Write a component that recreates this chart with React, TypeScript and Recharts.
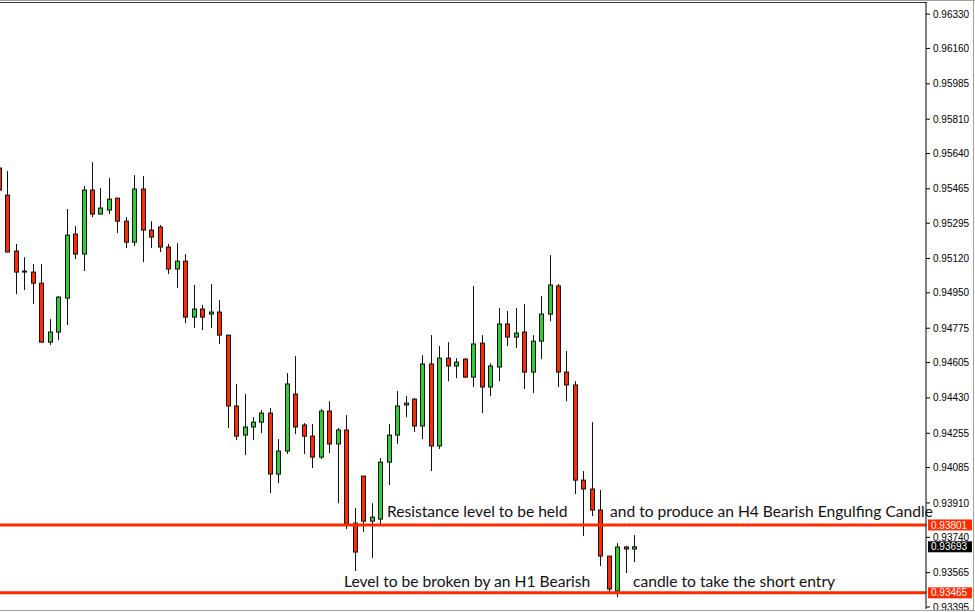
import { ComposedChart, Bar, XAxis, YAxis, ReferenceLine, ReferenceDot } from 'recharts';

// candle values (index 0 is the cut-off one at the left edge)
const opens = [
  0.95568, 0.95434, 0.95157, 0.95058, 0.95053, 0.94998, 0.94706, 0.94756, 0.94924, 0.95241,
  0.95142, 0.95459, 0.95340, 0.95360, 0.95419, 0.95305, 0.95201, 0.95464, 0.95261, 0.95276,
  0.95177, 0.95068, 0.95107, 0.94830, 0.94870, 0.94845, 0.94855, 0.94741, 0.94390, 0.94246,
  0.94286, 0.94310, 0.94355, 0.94053, 0.94167, 0.94449, 0.94296, 0.94241, 0.94137, 0.94365,
  0.94202, 0.94271, 0.93810, 0.94043, 0.93820, 0.93830, 0.94112, 0.94246, 0.94395, 0.94424,
  0.94291, 0.94598, 0.94192, 0.94627, 0.94588, 0.94622, 0.94533, 0.94701, 0.94484, 0.94583,
  0.94796, 0.94731, 0.94756, 0.94558, 0.94711, 0.94845, 0.94984, 0.94558, 0.94494, 0.94023,
  0.93979, 0.93875, 0.93647, 0.93474, 0.93692, 0.93682,
];
const highs = [
  0.95583, 0.95553, 0.95192, 0.95127, 0.95093, 0.95093, 0.94820, 0.94934, 0.95365, 0.95281,
  0.95479, 0.95597, 0.95469, 0.95518, 0.95419, 0.95325, 0.95533, 0.95528, 0.95305, 0.95286,
  0.95192, 0.95196, 0.95142, 0.94989, 0.94890, 0.94994, 0.94914, 0.94741, 0.94499, 0.94449,
  0.94335, 0.94370, 0.94380, 0.94226, 0.94553, 0.94637, 0.94305, 0.94301, 0.94375, 0.94414,
  0.94281, 0.94345, 0.93885, 0.94043, 0.93909, 0.94132, 0.94301, 0.94464, 0.94439, 0.94429,
  0.94642, 0.94741, 0.94687, 0.94706, 0.94627, 0.94627, 0.94984, 0.94741, 0.94602, 0.94875,
  0.94860, 0.94875, 0.94895, 0.94741, 0.94934, 0.95137, 0.94994, 0.94662, 0.94513, 0.94068,
  0.94310, 0.93974, 0.93647, 0.93711, 0.93697, 0.93751,
];
const lows = [
  0.95449, 0.95152, 0.94944, 0.94964, 0.94895, 0.94706, 0.94692, 0.94716, 0.94791, 0.95117,
  0.95058, 0.95325, 0.95340, 0.95340, 0.95246, 0.95172, 0.95182, 0.95102, 0.95172, 0.95152,
  0.95043, 0.94974, 0.94800, 0.94776, 0.94766, 0.94776, 0.94697, 0.94281, 0.94221, 0.94147,
  0.94221, 0.94256, 0.93959, 0.94008, 0.94152, 0.94251, 0.94152, 0.94083, 0.94127, 0.94157,
  0.93909, 0.93781, 0.93573, 0.93766, 0.93637, 0.93806, 0.93999, 0.94202, 0.94335, 0.94261,
  0.94226, 0.94068, 0.94177, 0.94513, 0.94528, 0.94528, 0.94484, 0.94355, 0.94439, 0.94513,
  0.94687, 0.94677, 0.94474, 0.94454, 0.94622, 0.94810, 0.94484, 0.94414, 0.93954, 0.93746,
  0.93845, 0.93598, 0.93469, 0.93444, 0.93563, 0.93617,
];
const closes = [
  0.95459, 0.95152, 0.95053, 0.95053, 0.94998, 0.94706, 0.94756, 0.94929, 0.95236, 0.95142,
  0.95459, 0.95340, 0.95370, 0.95414, 0.95305, 0.95201, 0.95464, 0.95261, 0.95226, 0.95177,
  0.95068, 0.95107, 0.94830, 0.94870, 0.94830, 0.94855, 0.94741, 0.94390, 0.94241, 0.94286,
  0.94310, 0.94355, 0.94053, 0.94167, 0.94499, 0.94286, 0.94241, 0.94137, 0.94365, 0.94202,
  0.94271, 0.93806, 0.93667, 0.93820, 0.93840, 0.94112, 0.94246, 0.94390, 0.94404, 0.94291,
  0.94598, 0.94192, 0.94627, 0.94588, 0.94607, 0.94533, 0.94697, 0.94484, 0.94588, 0.94796,
  0.94731, 0.94751, 0.94558, 0.94711, 0.94845, 0.94989, 0.94558, 0.94494, 0.94023, 0.93979,
  0.93875, 0.93647, 0.93484, 0.93692, 0.93682, 0.93693,
];

const priceTicks = [
  0.9633, 0.9616, 0.95985, 0.9581, 0.9564, 0.95465, 0.95295, 0.9512, 0.9495,
  0.94775, 0.94605, 0.9443, 0.94255, 0.94085, 0.9391, 0.9374, 0.93565, 0.93395,
];
const levels = [0.93801, 0.93465];
const lastPrice = 0.93693;

const noteTexts = [
  'Resistance level to be held',
  'and to produce an H4 Bearish Engulfing Candle',
  'Level to be broken by an H1 Bearish',
  'candle to take the short entry',
];
const noteAt = [45.85, 72.17, 40.77, 74.88];
const notePrice = [0.9384, 0.9384, 0.93494, 0.93494];

const RED = '#ff2a00';
const GREEN = '#32cd32';
const AXIS_FONT = '"Liberation Sans", Arial, sans-serif';

const candles = opens.map((o, i) => ({
  t: i,
  open: o,
  high: highs[i],
  low: lows[i],
  close: closes[i],
  range: [lows[i], highs[i]],
}));

const Candle = (props: any) => {
  const { x, y, width, height } = props;
  const d = props.payload ?? props;
  const top = Math.min(y, y + height);
  const h = Math.abs(height);
  const k = h / (d.high - d.low || 1);
  const py = (v: number) => top + (d.high - v) * k;
  const cx = Math.round(x + width / 2) + 0.5;
  const bTop = py(Math.max(d.open, d.close));
  const bBot = py(Math.min(d.open, d.close));
  const up = d.close > d.open;
  return (
    <g>
      <line x1={cx} x2={cx} y1={top} y2={top + h} stroke="#111" strokeWidth={1} />
      <rect
        x={cx - 2}
        y={bTop}
        width={4}
        height={Math.max(bBot - bTop, 1)}
        fill={up ? GREEN : RED}
        stroke="#111"
        strokeWidth={1}
      />
    </g>
  );
};

const PriceTag = (props: any) => {
  const { viewBox, text, fill } = props;
  const left = viewBox.x + viewBox.width + 2;
  return (
    <g>
      <rect x={left} y={viewBox.y - 5.5} width={44} height={11} fill={fill} />
      <text x={left + 3} y={viewBox.y} dy="0.36em" fill="#fff" fontSize={10} fontFamily={AXIS_FONT}>
        {text}
      </text>
    </g>
  );
};

export default function App() {
  return (
    <div style={{ position: 'absolute', left: 0, top: 0, width: 975, height: 612, background: '#fff' }}>
      <ComposedChart width={975} height={612} data={candles} margin={{ top: 3, right: 0, bottom: 3, left: 0 }}>
        <XAxis dataKey="t" type="number" domain={[0.174, 109.46]} allowDataOverflow hide />
        <YAxis
          orientation="right"
          width={49}
          domain={[0.93385, 0.96385]}
          allowDataOverflow
          ticks={priceTicks}
          interval={0}
          tickFormatter={(v: number) => v.toFixed(5)}
          stroke="#000"
          tickSize={4}
          tickMargin={3}
          tick={{ fill: '#000', fontSize: 10, fontFamily: AXIS_FONT, textAnchor: 'start' }}
        />
        <Bar dataKey="range" barSize={5} shape={<Candle />} isAnimationActive={false} />
        {levels.map((p) => (
          <ReferenceLine
            key={p}
            y={p}
            stroke={RED}
            strokeWidth={3}
            label={<PriceTag text={p.toFixed(5)} fill={RED} />}
          />
        ))}
        <ReferenceLine
          y={lastPrice}
          stroke="none"
          label={<PriceTag text={lastPrice.toFixed(5)} fill="#000" />}
        />
        {noteTexts.map((s, i) => (
          <ReferenceDot
            key={s}
            x={noteAt[i]}
            y={notePrice[i]}
            r={0}
            ifOverflow="visible"
            shape={(p: any) => (
              <text x={p.cx} y={p.cy} fill="#111" fontSize={15.6} fontFamily="Lato, sans-serif">
                {s}
              </text>
            )}
          />
        ))}
      </ComposedChart>
      <div style={{ position: 'absolute', left: 0, top: 0, width: 975, height: 1, background: '#a0a0a0' }} />
      <div style={{ position: 'absolute', left: 0, top: 2, width: 927, height: 1, background: '#333' }} />
      <div style={{ position: 'absolute', left: 0, top: 610, width: 975, height: 1, background: '#a0a0a0' }} />
      <div style={{ position: 'absolute', left: 973, top: 0, width: 1, height: 611, background: '#a0a0a0' }} />
    </div>
  );
}
